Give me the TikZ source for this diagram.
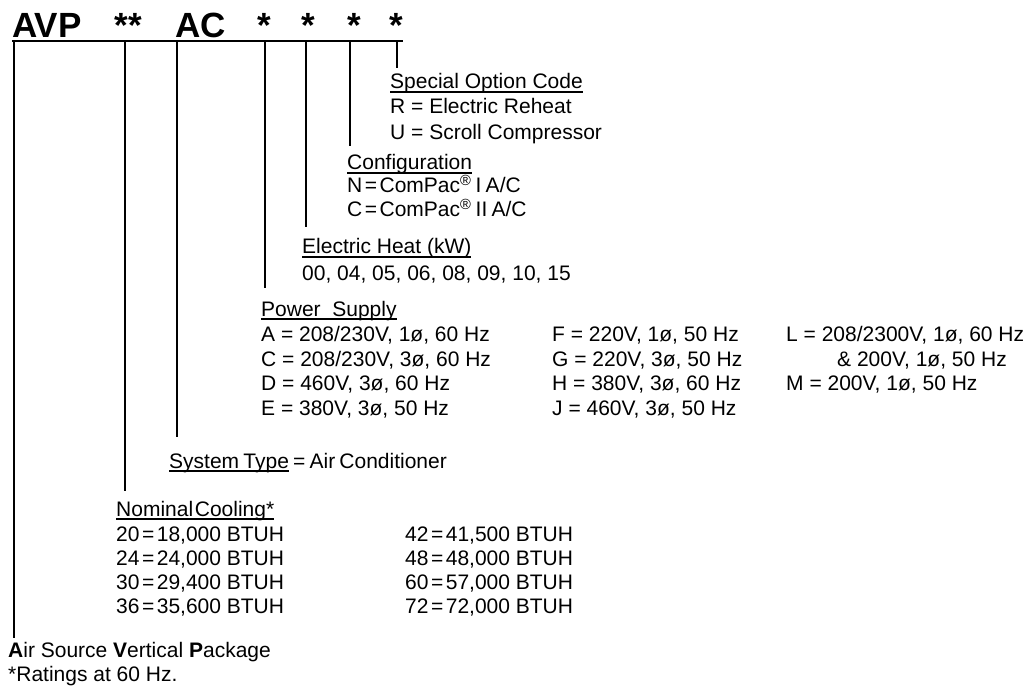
\documentclass[tikz,border=0pt]{standalone}
\usepackage{fontspec}
\setmainfont{Liberation Sans}
\newsavebox\ulbox
\newcommand\myul[1]{\sbox\ulbox{#1}\rlap{\rule[-3.7pt]{\wd\ulbox}{1.4pt}}\usebox\ulbox}
\newcommand\tight{\spaceskip=0.2em\relax}
\newcommand\eq{\hspace{0.12em}=\hspace{0.12em}}
\tikzset{
  txt/.style={anchor=base west, inner sep=0pt, font=\fontsize{21}{24}\selectfont},
  hdr/.style={anchor=base, inner sep=0pt, font=\fontsize{35}{40}\selectfont\bfseries},
  bar/.style={line width=1.8pt},
  lead/.style={line width=2pt},
  leadthick/.style={line width=2.5pt},
}
\begin{document}
\begin{tikzpicture}[x=1pt,y=-1pt]
\useasboundingbox (0,0) rectangle (1031,695);
% header
\node[hdr, anchor=base west] (avp) at (12,38) {AVP};
\node[hdr] (s2) at (128.5,38) {**};
\node[hdr, anchor=base west] (ac) at (175,38) {AC};
\node[hdr] (sa) at (264,38) {*};
\node[hdr] (sb) at (308,38) {*};
\node[hdr] (sc) at (354,38) {*};
\node[hdr] (sd) at (396,38) {*};
% bar
\coordinate (barL) at (12,41);
\coordinate (barR) at (403,41);
\draw[bar] (barL) -- (barR);
% bar taps
\coordinate (t1) at (14,41);  \coordinate (e1) at (14,638);
\coordinate (t2) at (125,41); \coordinate (e2) at (125,491);
\coordinate (t3) at (177,41); \coordinate (e3) at (177,437);
\coordinate (t4) at (265,41); \coordinate (e4) at (265,288);
\coordinate (t5) at (306,41); \coordinate (e5) at (306,227);
\coordinate (t6) at (350,41); \coordinate (e6) at (350,146);
\coordinate (t7) at (397,41); \coordinate (e7) at (397,68);
\draw[leadthick] (t1) -- (e1);
\draw[leadthick] (t2) -- (e2);
\draw[lead] (t3) -- (e3);
\draw[lead] (t4) -- (e4);
\draw[lead] (t5) -- (e5);
\draw[lead] (t6) -- (e6);
\draw[lead] (t7) -- (e7);
% Special option
\node[txt] (so)  at (390,89)  {\myul{Special Option Code}};
\node[txt] (so1) at (390,114) {R = Electric Reheat};
\node[txt] (so2) at (390,140) {U = Scroll Compressor};
% Configuration
\node[txt] (cf)  at (347,170) {\myul{Configuration}};
\node[txt] (cf1) at (347,193) {\tight N\eq ComPac\textsuperscript{®} I A/C};
\node[txt] (cf2) at (347,217) {\tight C\eq ComPac\textsuperscript{®} II A/C};
% Electric heat
\node[txt] (eh)  at (302,254) {\myul{Electric Heat (kW)}};
\node[txt] (eh1) at (302,280) {00, 04, 05, 06, 08, 09, 10, 15};
% Power supply
\node[txt] (ps)  at (261,316) {\myul{Power\ \ Supply}};
\node[txt] (pa)  at (261,341) {A = 208/230V, 1ø, 60 Hz};
\node[txt] (pc)  at (261,366) {C = 208/230V, 3ø, 60 Hz};
\node[txt] (pd)  at (261,390) {D = 460V, 3ø, 60 Hz};
\node[txt] (pe)  at (261,415) {E = 380V, 3ø, 50 Hz};
\node[txt] (pf)  at (552,341) {F = 220V, 1ø, 50 Hz};
\node[txt] (pg)  at (552,366) {G = 220V, 3ø, 50 Hz};
\node[txt] (ph)  at (552,390) {H = 380V, 3ø, 60 Hz};
\node[txt] (pj)  at (552,415) {J = 460V, 3ø, 50 Hz};
\node[txt] (pl)  at (786,341) {L = 208/2300V, 1ø, 60 Hz};
\node[txt] (pl2) at (837,366) {\& 200V, 1ø, 50 Hz};
\node[txt] (pm)  at (786,390) {M = 200V, 1ø, 50 Hz};
% System type
\node[txt] (st)  at (169,468) {\tight\myul{System Type} = Air Conditioner};
% Nominal cooling
\node[txt] (nc)  at (116,516) {\myul{Nominal\hspace{0.08em}Cooling*}};
\node[txt] (n20) at (116,541) {20\eq 18,000 BTUH};
\node[txt] (n24) at (116,565) {24\eq 24,000 BTUH};
\node[txt] (n30) at (116,589) {30\eq 29,400 BTUH};
\node[txt] (n36) at (116,613) {36\eq 35,600 BTUH};
\node[txt] (n42) at (405,541) {42\eq 41,500 BTUH};
\node[txt] (n48) at (405,565) {48\eq 48,000 BTUH};
\node[txt] (n60) at (405,589) {60\eq 57,000 BTUH};
\node[txt] (n72) at (405,613) {72\eq 72,000 BTUH};
% footer
\node[txt] (asv) at (8,657) {\textbf{A}ir Source \textbf{V}ertical \textbf{P}ackage};
\node[txt] (rt)  at (8,681) {*Ratings at 60 Hz.};
\end{tikzpicture}
\end{document}
